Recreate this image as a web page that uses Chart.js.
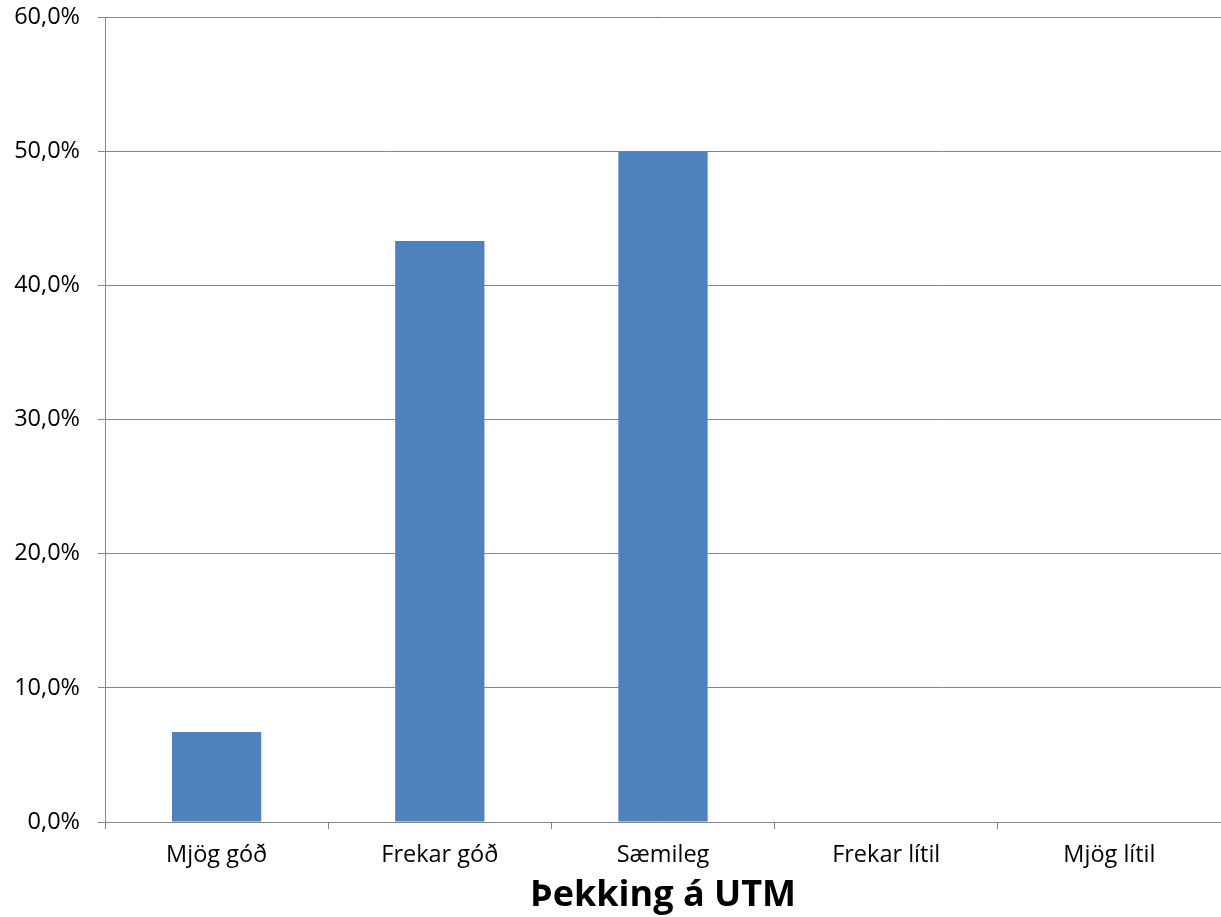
<!DOCTYPE html>
<html>
<head>
<meta charset="utf-8">
<script src="https://cdn.jsdelivr.net/npm/chart.js@4"></script>
<style>
  html, body { margin: 0; padding: 0; background: #fff; }
  #wrap { width: 1221px; height: 917px; }
</style>
</head>
<body>
<div id="wrap"><canvas id="utm-canvas"></canvas></div>
<script>
var categories = ["Mjög góð", "Frekar góð", "Sæmileg", "Frekar lítil", "Mjög lítil"];
var shares = [6.7, 43.3, 50.0, 0, 0];
var yTicks = [0, 10, 20, 30, 40, 50, 60];
var chartTitle = "Þekking á UTM";

var gridGrey = "#868686";

window.onload = function() {
    var ctx = document.getElementById("utm-canvas").getContext("2d");
    window.utmBar = new Chart(ctx, {
        type: 'bar',
        data: {
            labels: categories,
            datasets: [{
                label: 'Þekking',
                backgroundColor: "#4F81BD",
                borderWidth: 0,
                data: shares
            }]
        },
        options: {
            responsive: true,
            maintainAspectRatio: false,
            animation: false,
            layout: { padding: { top: 17, right: 0, left: 0, bottom: 0 } },
            plugins: {
                legend: { display: false },
                tooltip: { enabled: false }
            },
            datasets: {
                bar: { categoryPercentage: 1.0, barPercentage: 0.40 }
            },
            scales: {
                x: {
                    offset: true,
                    grid: {
                        offset: true,
                        drawOnChartArea: false,
                        color: gridGrey,
                        tickLength: 7
                    },
                    border: { color: gridGrey, width: 1 },
                    ticks: {
                        color: "#000",
                        padding: 12,
                        font: { family: "'Open Sans'", size: 23.5 }
                    },
                    title: {
                        display: true,
                        text: chartTitle,
                        color: "#000",
                        padding: { top: 0, bottom: 0 },
                        font: { family: "'Open Sans'", size: 36, weight: 'bold' }
                    },
                    afterFit: function(scale) { scale.height = 95; }
                },
                y: {
                    min: 0,
                    max: 60,
                    afterBuildTicks: function(scale) {
                        scale.ticks = yTicks.map(function(v) { return { value: v }; });
                    },
                    grid: {
                        color: gridGrey,
                        tickLength: 7
                    },
                    border: { color: gridGrey, width: 1 },
                    ticks: {
                        color: "#000",
                        padding: 18,
                        font: { family: "'Open Sans'", size: 23.5 },
                        callback: function(v) { return v.toFixed(1).replace('.', ',') + '%'; }
                    },
                    afterFit: function(scale) {
                        scale.width = 105;
                        scale.paddingTop = 0;
                        scale.paddingBottom = 0;
                    }
                }
            }
        }
    });
};
</script>
</body>
</html>
